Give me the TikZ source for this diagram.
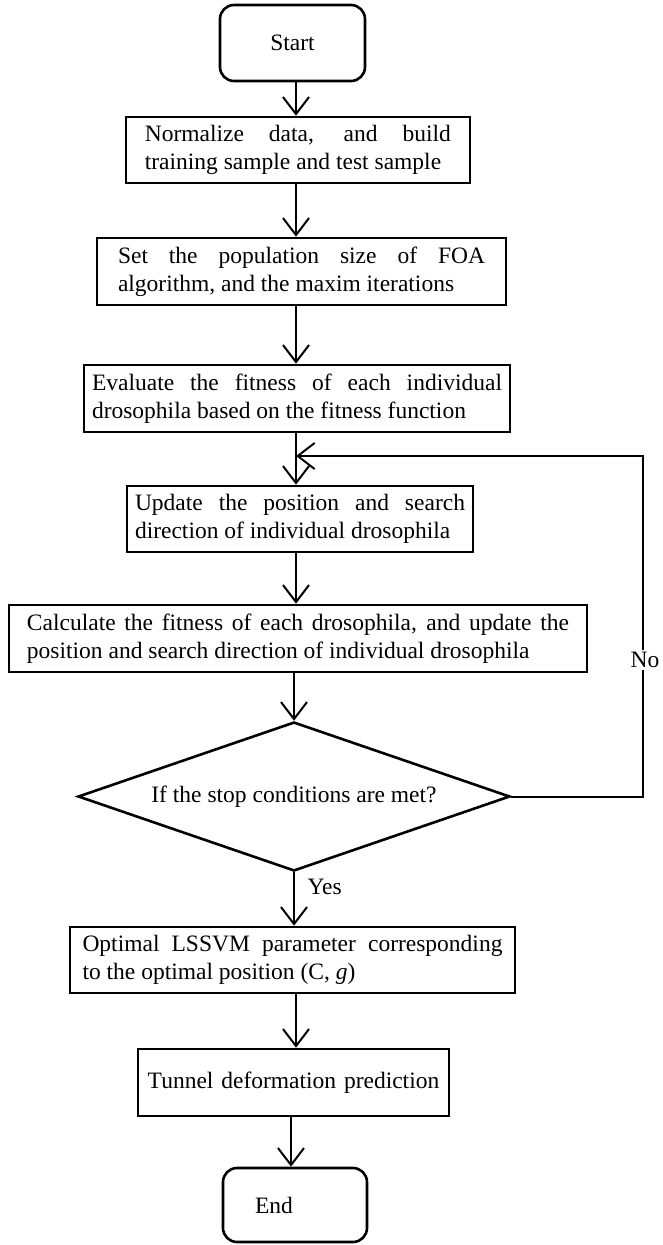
\documentclass[tikz,border=0pt]{standalone}
\usepackage{fontspec}
\setmainfont{Liberation Serif}
\usetikzlibrary{shapes.geometric,arrows.meta}
\newcommand{\myfnt}{\fontsize{23.5}{28}\selectfont\hyphenpenalty=10000\relax}
\begin{document}
\begin{tikzpicture}[x=1pt,y=-1pt,
  txt/.style={font=\myfnt},
  box/.style={draw, line width=2.6pt, inner ysep=2pt, txt, align=justify},
  term/.style={draw, rounded corners=14pt, line width=2.6pt, inner ysep=2pt, txt},
  dec/.style={draw, shape=diamond, shape aspect=2.9, line width=2.6pt, inner sep=0pt, txt},
  arr/.style={line width=2pt, -{Straight Barb[length=17pt,width=26pt]}}]
\fill[white] (0,0) rectangle (662,1245);
\useasboundingbox (0,0) rectangle (662,1245);
\coordinate (sp) at (296,0);
\coordinate (sp2) at (291,0);
\coordinate (lp) at (643,456);

\node[term, minimum width=145pt, minimum height=76pt] (start) at (292.5,43) {Start};
\node[box, minimum width=344pt, minimum height=66pt, inner xsep=19pt, text width=306pt] (b2) at (297.85,150)
  {Normalize data, and build\linebreak training sample and test sample};
\node[box, minimum width=409pt, minimum height=67pt, inner xsep=21pt, text width=367pt] (b3) at (301.5,271.5)
  {Set the population size of FOA\linebreak algorithm, and the maxim iterations};
\node[box, minimum width=426pt, minimum height=67pt, inner xsep=8pt, text width=410pt] (b4) at (297,398.5)
  {Evaluate the fitness of each individual\linebreak drosophila based on the fitness function};
\node[box, minimum width=346pt, minimum height=66pt, inner xsep=8pt, text width=330pt] (b5) at (300,519)
  {Update the position and search\linebreak direction of individual drosophila};
\node[box, minimum width=578pt, minimum height=67pt, inner xsep=18pt, text width=542pt] (b6) at (298,638.5)
  {Calculate the fitness of each drosophila, and update the\linebreak position and search direction of individual drosophila};
\node[dec, minimum width=432pt, minimum height=149pt] (d) at (294,796.5) {If the stop conditions are met?\hspace{16pt}};
\node[box, minimum width=445pt, minimum height=66pt, inner xsep=12.5pt, text width=420pt] (b7) at (292.5,960)
  {Optimal LSSVM parameter corresponding\linebreak to the optimal position (C, \textit{g})};
\node[box, align=center, minimum width=311pt, minimum height=67pt, inner xsep=8pt, text width=295pt] (b8) at (293.5,1082.5)
  {Tunnel deformation prediction};
\node[term, minimum width=144pt, minimum height=74pt, inner xsep=32pt, text width=80pt, align=left] (end) at (295,1205) {End};

\draw[arr] (start.south -| sp) -- (b2.north -| sp);
\draw[arr] (b2.south -| sp) -- (b3.north -| sp);
\draw[arr] (b3.south -| sp) -- (b4.north -| sp);
\draw[arr] (b4.south -| sp) -- (b5.north -| sp);
\draw[arr] (b5.south -| sp) -- (b6.north -| sp);
\draw[arr] (b6.south -| d.north) -- (d.north);
\draw[arr] (d.south) -- (d.south |- b7.north);
\draw[arr] (b7.south -| sp) -- (b8.north -| sp);
\draw[arr] (b8.south -| sp2) -- (end.north -| sp2);
\draw[arr] (d.east) -| (lp) -- (lp -| sp);
\node[txt, fill=white, inner sep=2pt] (no) at (645,660) {No};
\node[txt, anchor=west] (yes) at (304,887) {Yes};
\end{tikzpicture}
\end{document}
